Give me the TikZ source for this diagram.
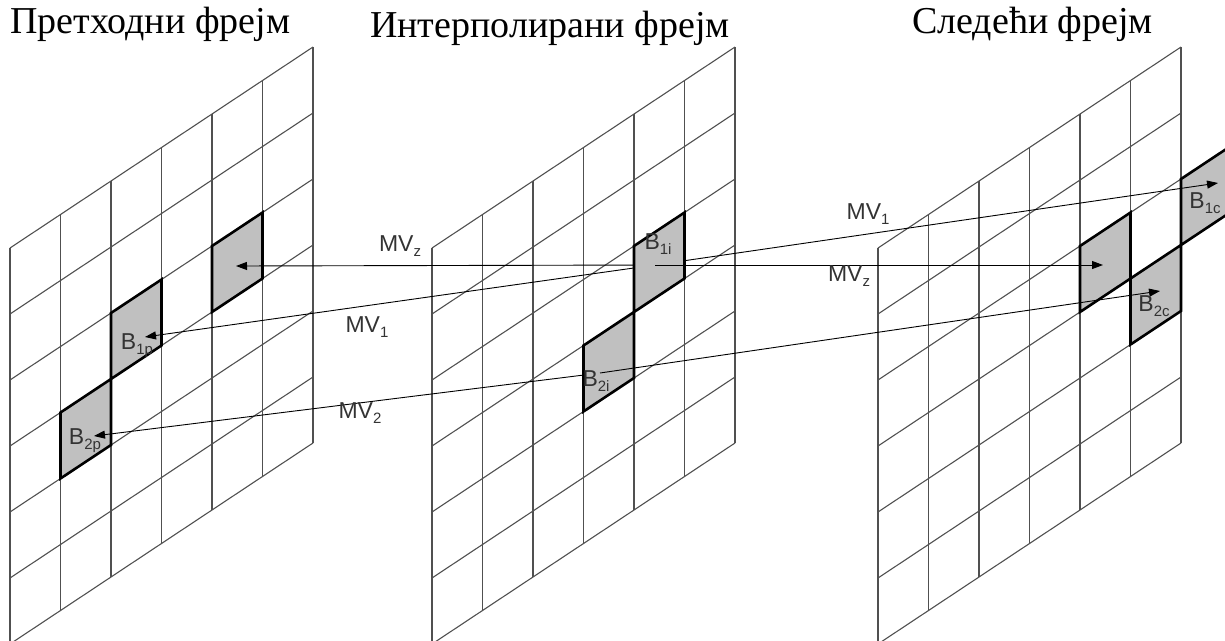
\documentclass[tikz,border=0pt]{standalone}
\usepackage{fontspec}
\setmainfont{Liberation Serif}
\setsansfont{Liberation Sans}
\usepackage{tikz}
\usetikzlibrary{arrows.meta,calc}
\definecolor{mreza}{HTML}{505050}
\definecolor{blok}{HTML}{C0C0C0}
\definecolor{oznaka}{HTML}{333333}
\newcommand{\podind}[1]{\raisebox{-0.22em}{\fontsize{15}{15}\selectfont #1}}
\newcommand{\kolw}{50.5}
\newcommand{\kolr}{33.5}
\newcommand{\redh}{66}
\newcommand{\vrhy}{248}
\tikzset{linija/.style={draw=mreza,line width=1.1pt},blk/.style={draw=black,fill=blok,line width=2.6pt,line join=miter},mv/.style={-{Triangle[length=11pt,width=8pt]},line width=0.9pt,draw=black},naslov/.style={font=\fontsize{38}{40}\selectfont,anchor=base west,inner sep=0pt},lbl/.style={font=\sffamily\fontsize{23}{25}\selectfont,text=oznaka,inner sep=0pt}}
\begin{document}
\begin{tikzpicture}[x=1pt,y=-1pt]
\useasboundingbox (0,0) rectangle (1225,640);
\clip (0,0) rectangle (1225,640);
% tri mreze
\foreach \L in {10,432,878}{
 \foreach \i in {0,...,6} \draw[linija] (\L+\i*\kolw,\vrhy-\i*\kolr) -- ++(0,6*\redh);
 \foreach \j in {0,...,6} \draw[linija] (\L,\vrhy+\j*\redh) -- ++(6*\kolw,-6*\kolr);
}
% ciljni blokovi
\foreach \L/\c/\rw in {10/4/2,10/2/2,10/1/3,878/4/2,878/5/3,878/6/2}
 \draw[blk] (\L+\c*\kolw,\vrhy-\c*\kolr+\rw*\redh) -- ++(\kolw,-\kolr) -- ++(0,\redh) -- ++(-\kolw,\kolr) -- cycle;
\coordinate (b1i) at (655,265);
\coordinate (b2i) at (600,373);
\coordinate (zp) at (236,266);
\coordinate (b1p) at (145,337);
\coordinate (b2p) at (94,436);
\coordinate (zc) at (1103,265);
\coordinate (b1c) at (1218,183);
\coordinate (b2c) at (1160,291);
\draw[mv] (b1i) -- (zp);
\draw[mv] (b1i) -- (b1p);
\draw[mv] (b2i) -- (b2p);
\draw[mv] (b1i) -- (b1c);
% interpolirani blokovi
\foreach \L/\c/\rw in {432/4/2,432/3/3}
 \draw[blk] (\L+\c*\kolw,\vrhy-\c*\kolr+\rw*\redh) -- ++(\kolw,-\kolr) -- ++(0,\redh) -- ++(-\kolw,\kolr) -- cycle;
\draw[mv] (b1i) -- (zc);
\draw[mv] (b2i) -- (b2c);
% natpisi
\node[naslov] (nPret) at (10,33) {Претходни фрејм};
\node[naslov] (nInt) at (370,37) {Интерполирани фрејм};
\node[naslov] (nSled) at (912,33) {Следећи фрејм};
\node[lbl] (tZp) at (400,246) {MV\podind{z}};
\node[lbl] (t1p) at (367,327) {MV\podind{1}};
\node[lbl] (t2p) at (360,413) {MV\podind{2}};
\node[lbl] (t1c) at (868,214) {MV\podind{1}};
\node[lbl] (tZc) at (849,276) {MV\podind{z}};
\node[lbl] (lB1p) at (137,346) {B\podind{1p}};
\node[lbl] (lB2p) at (85,441) {B\podind{2p}};
\node[lbl] (lB1i) at (658,244) {B\podind{1i}};
\node[lbl] (lB2i) at (596,381) {B\podind{2i}};
\node[lbl] (lB1c) at (1205,203) {B\podind{1c}};
\node[lbl] (lB2c) at (1154,306) {B\podind{2c}};
\end{tikzpicture}
\end{document}
